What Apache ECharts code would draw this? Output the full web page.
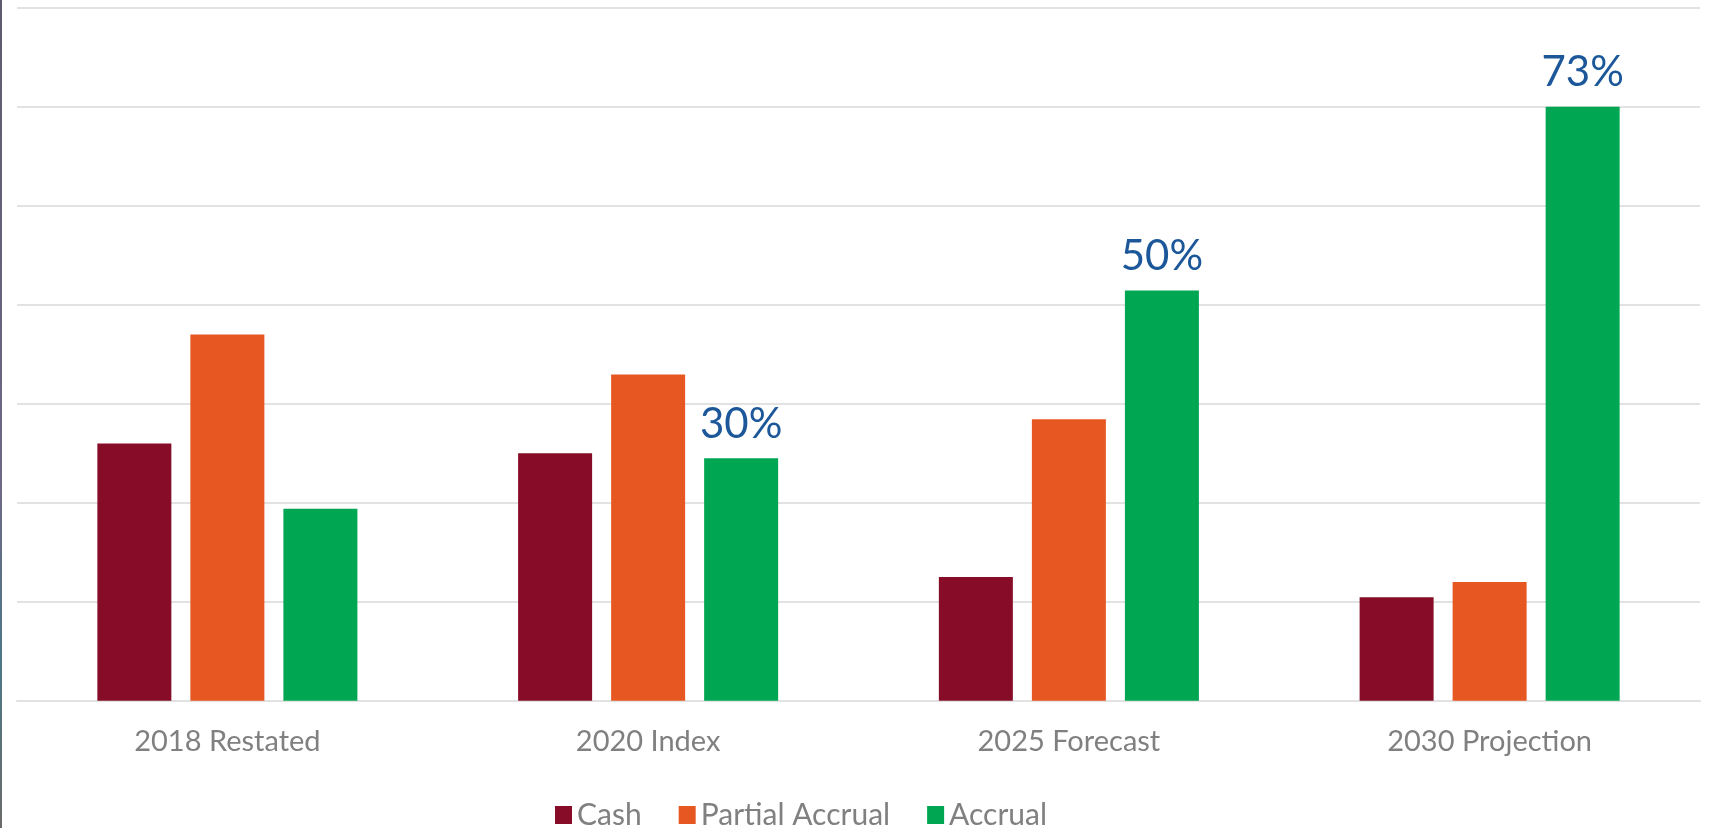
<!DOCTYPE html>
<html>
<head>
<meta charset="utf-8">
<script src="https://cdn.jsdelivr.net/npm/echarts@6/dist/echarts.min.js"></script>
<style>
  html, body { margin: 0; padding: 0; background: #ffffff; }
  #chart { width: 1711px; height: 828px; }
</style>
</head>
<body>
<div id="chart"></div>
<script>
// ---- Data (percent of total) ----
const categories = ['2018 Restated', '2020 Index', '2025 Forecast', '2030 Projection'];
const cashValues = [31.6, 30.4, 15.2, 12.7];
const partialAccrualValues = [45.0, 40.1, 34.6, 14.6];
const accrualValues = [23.6, 29.8, 50.4, 73.0];
// which accrual bars carry a data label
const accrualLabelShown = [false, true, true, true];
const seriesNames = ['Cash', 'Partial Accrual', 'Accrual'];

// ---- Styles ----
const colors = ['#870C27', '#E65722', '#00A651'];
const gridColor = '#e2e2e2';
const textGrey = '#808080';
const labelBlue = '#1B5799';
const fontFamily = 'Lato, "Noto Sans", sans-serif';

const chart = echarts.init(document.getElementById('chart'), null, { renderer: 'canvas' });

function barSeries(name, values, color, labelFlags) {
  return {
    name: name,
    type: 'bar',
    barWidth: 74,
    barGap: '25.7%',
    itemStyle: { color: color },
    data: values.map(function (v, i) {
      const item = { value: v };
      if (labelFlags && labelFlags[i]) {
        item.label = {
          show: true,
          position: 'top',
          distance: 13,
          color: labelBlue,
          fontFamily: fontFamily,
          fontSize: 42,
          formatter: function (p) { return Math.round(p.value) + '%'; }
        };
      }
      return item;
    })
  };
}

const yInterval = 73 / 6;

chart.setOption({
  animation: false,
  backgroundColor: '#ffffff',
  textStyle: { fontFamily: fontFamily },
  grid: { left: 17, right: 11, top: 7.7, height: 693, containLabel: false },
  legend: {
    data: seriesNames,
    left: 555,
    top: 800,
    padding: 0,
    itemWidth: 17,
    itemHeight: 18,
    itemGap: 37,
    icon: 'rect',
    textStyle: { color: textGrey, fontSize: 30, fontFamily: fontFamily }
  },
  xAxis: {
    type: 'category',
    data: categories,
    axisTick: { show: false },
    axisLine: { show: true, lineStyle: { color: gridColor, width: 2 } },
    axisLabel: { color: textGrey, fontSize: 29, margin: 26, fontFamily: fontFamily }
  },
  yAxis: {
    type: 'value',
    min: 0,
    max: yInterval * 7,
    interval: yInterval,
    axisLabel: { show: false },
    axisLine: { show: false },
    axisTick: { show: false },
    splitLine: { show: true, lineStyle: { color: gridColor, width: 2 } }
  },
  graphic: [{
    type: 'rect',
    left: 0,
    top: 0,
    shape: { width: 2, height: 828 },
    style: {
      fill: new echarts.graphic.LinearGradient(0, 0, 0, 1, [
        { offset: 0, color: '#5d5b6e' },
        { offset: 0.6, color: '#6c6a85' },
        { offset: 0.8, color: '#4d7886' },
        { offset: 1, color: '#6a6a6a' }
      ])
    },
    silent: true
  }],
  series: [
    barSeries(seriesNames[0], cashValues, colors[0]),
    barSeries(seriesNames[1], partialAccrualValues, colors[1]),
    barSeries(seriesNames[2], accrualValues, colors[2], accrualLabelShown)
  ]
});
</script>
</body>
</html>
